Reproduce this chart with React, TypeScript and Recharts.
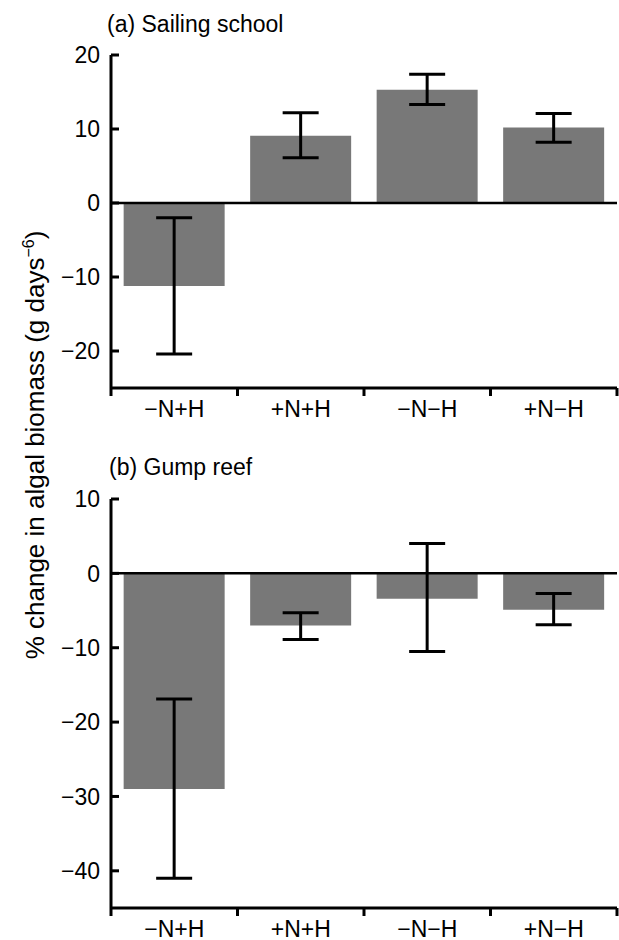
import { Bar, BarChart, ErrorBar, ReferenceLine, XAxis, YAxis } from "recharts";

// treatments
const categories = ["−N+H", "+N+H", "−N−H", "+N−H"];

// (a) Sailing school
const sailingMean = [-11.2, 9.1, 15.3, 10.2];
const sailingLow = [-20.4, 6.1, 13.3, 8.2];
const sailingHigh = [-2.0, 12.2, 17.4, 12.1];
const sailingTicks = [-20, -10, 0, 10, 20];

// (b) Gump reef
const gumpMean = [-29.0, -7.0, -3.4, -4.9];
const gumpLow = [-41.0, -8.9, -10.5, -6.9];
const gumpHigh = [-16.9, -5.3, 4.0, -2.7];
const gumpTicks = [-40, -30, -20, -10, 0, 10];

const FONT = "'Liberation Sans', Arial, Helvetica, sans-serif";
const CHART_W = 619;
const Y_AXIS_W = 111;
const RIGHT = 2;
const BAND_HALF = (CHART_W - Y_AXIS_W - RIGHT) / categories.length / 2;
const Y_TICK_MARGIN = 11;
const X_TICK_MARGIN = 13;

function buildRows(mean: number[], low: number[], high: number[]) {
  return categories.map((name, i) => ({
    name,
    value: mean[i],
    err: [mean[i] - low[i], high[i] - mean[i]],
  }));
}

const sailingRows = buildRows(sailingMean, sailingLow, sailingHigh);
const gumpRows = buildRows(gumpMean, gumpLow, gumpHigh);

function YTick(props: any) {
  const { x, y, payload } = props;
  const ax = x + Y_TICK_MARGIN;
  const label = payload.value < 0 ? `−${Math.abs(payload.value)}` : `${payload.value}`;
  return (
    <g>
      <line x1={ax} x2={ax + 8} y1={y} y2={y} stroke="#000" strokeWidth={3} />
      <text x={x} y={y} dy="0.36em" textAnchor="end" fontSize={23} fontFamily={FONT} fill="#000">
        {label}
      </text>
    </g>
  );
}

function XTick(props: any) {
  const { x, y, payload, index } = props;
  const ay = y - X_TICK_MARGIN;
  const last = index === categories.length - 1;
  return (
    <g>
      <line x1={x - BAND_HALF} x2={x - BAND_HALF} y1={ay} y2={ay + 8} stroke="#000" strokeWidth={3} />
      {last && (
        <line x1={x + BAND_HALF} x2={x + BAND_HALF} y1={ay} y2={ay + 8} stroke="#000" strokeWidth={3} />
      )}
      <text x={x} y={y} dy="0.71em" textAnchor="middle" fontSize={23} fontFamily={FONT} fill="#000">
        {payload.value}
      </text>
    </g>
  );
}

interface PanelProps {
  rows: { name: string; value: number; err: number[] }[];
  domain: [number, number];
  ticks: number[];
  height: number;
  top: number;
  xAxisHeight: number;
}

function Panel({ rows, domain, ticks, height, top, xAxisHeight }: PanelProps) {
  return (
    <BarChart
      width={CHART_W}
      height={height}
      data={rows}
      margin={{ top, right: RIGHT, bottom: 0, left: 0 }}
      barCategoryGap="10%"
    >
      <XAxis
        dataKey="name"
        height={xAxisHeight}
        interval={0}
        axisLine={{ stroke: "#000", strokeWidth: 3 }}
        tickLine={false}
        tickSize={0}
        tickMargin={X_TICK_MARGIN}
        tick={<XTick />}
      />
      <YAxis
        type="number"
        domain={domain}
        ticks={ticks}
        width={Y_AXIS_W}
        allowDataOverflow
        axisLine={{ stroke: "#000", strokeWidth: 3 }}
        tickLine={false}
        tickSize={0}
        tickMargin={Y_TICK_MARGIN}
        tick={<YTick />}
      />
      <Bar dataKey="value" fill="#787878" isAnimationActive={false}>
        <ErrorBar dataKey="err" width={18} stroke="#000" strokeWidth={3} isAnimationActive={false} />
      </Bar>
      <ReferenceLine y={0} stroke="#000" strokeWidth={2.5} />
    </BarChart>
  );
}

export default function App() {
  return (
    <div style={{ position: "absolute", left: 0, top: 0, width: 619, height: 940, background: "#fff", fontFamily: FONT }}>
      <div style={{ position: "absolute", left: 0, top: 0 }}>
        <Panel rows={sailingRows} domain={[-25, 20]} ticks={sailingTicks} height={440} top={55} xAxisHeight={52} />
      </div>
      <div style={{ position: "absolute", left: 0, top: 440 }}>
        <Panel rows={gumpRows} domain={[-45, 10]} ticks={gumpTicks} height={500} top={59} xAxisHeight={32} />
      </div>
      <svg width={619} height={940} style={{ position: "absolute", left: 0, top: 0, pointerEvents: "none" }}>
        <text x={107} y={32} fontSize={23} fontFamily={FONT} fill="#000">
          (a) Sailing school
        </text>
        <text x={109} y={475} fontSize={23} fontFamily={FONT} fill="#000">
          (b) Gump reef
        </text>
        <text
          x={44}
          y={445}
          transform="rotate(-90, 44, 445)"
          textAnchor="middle"
          fontSize={26}
          fontFamily={FONT}
          fill="#000"
        >
          % change in algal biomass (g days
          <tspan dy={-10} fontSize={16}>−6</tspan>
          <tspan dy={10}>)</tspan>
        </text>
      </svg>
    </div>
  );
}
